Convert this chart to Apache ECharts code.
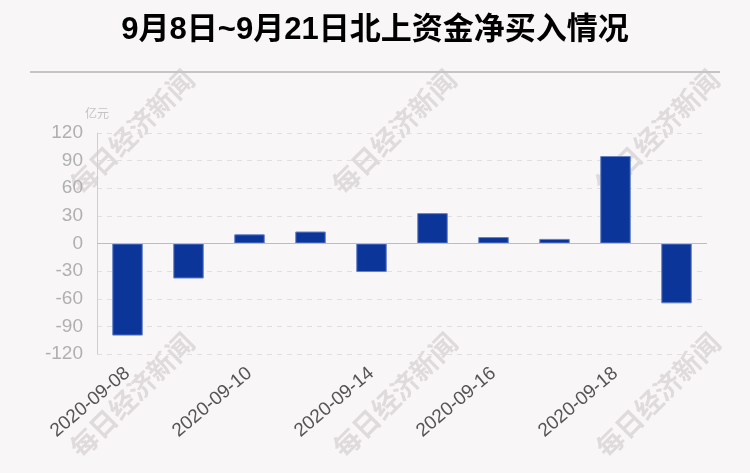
<!DOCTYPE html>
<html>
<head>
<meta charset="utf-8">
<script src="https://cdn.jsdelivr.net/npm/echarts@6/dist/echarts.min.js"></script>
<style>
html,body{margin:0;padding:0;background:#f9f6f7;}
#chart{width:750px;height:473px;}
</style>
</head>
<body>
<div id="chart"></div>
<script>
const titleText = '9月8日~9月21日北上资金净买入情况';
const unitName = '亿元';
const categories = ['2020-09-08','2020-09-09','2020-09-10','2020-09-11','2020-09-14','2020-09-15','2020-09-16','2020-09-17','2020-09-18','2020-09-21'];
const netBuy = [-100, -38, 10, 13, -31, 33, 7, 5, 95, -65];
const yMin = -120, yMax = 120, yStep = 30;
const watermark = '每日经济新闻';

const chart = echarts.init(document.getElementById('chart'), null, {renderer:'canvas'});
const wmCenters = [[132,132],[394,132],[657,132],[132,395],[395,395],[658,395]];
const graphics = [
  {type:'line', z:1, shape:{x1:30,y1:72,x2:720,y2:72}, style:{stroke:'#c6c4c5', lineWidth:2}, silent:true}
].concat(wmCenters.map(c => ({
  type:'text', z:-1, zlevel:0, x:c[0], y:c[1], rotation:Math.PI/4, silent:true,
  style:{text:watermark, fill:'#dfdbdc', font:'bold 27px "Noto Sans CJK SC"', align:'center', verticalAlign:'middle'}
})));

chart.setOption({
  backgroundColor:'#f9f6f7',
  animation:false,
  title:{text:titleText, left:'center', top:10,
    textStyle:{fontSize:31, fontWeight:'bold', color:'#000', fontFamily:'"Liberation Sans","Noto Sans CJK SC",sans-serif'}},
  graphic: graphics,
  grid:{left:97, right:43, top:133, bottom:119},
  xAxis:{
    type:'category', data:categories,
    axisLine:{show:false, onZero:false}, axisTick:{show:false},
    axisLabel:{interval:1, rotate:40, color:'#555', fontSize:19, margin:17, fontFamily:'"Liberation Sans",sans-serif'},
    splitLine:{show:false}
  },
  yAxis:{
    type:'value', min:yMin, max:yMax, interval:yStep,
    name:unitName, nameGap:14,
    nameTextStyle:{color:'#c4c4c4', fontSize:12, fontFamily:'"Noto Sans CJK SC"'},
    axisLine:{show:true, lineStyle:{color:'#cfcfcf'}},
    axisTick:{show:false},
    axisLabel:{color:'#b0b0b0', fontSize:19, margin:14, fontFamily:'"Liberation Sans",sans-serif'},
    splitLine:{show:true, lineStyle:{color:'#e2dfe0', type:[5,5]}}
  },
  series:[{
    type:'bar', data:netBuy, barWidth:'50%', z:3,
    itemStyle:{color:'#0c3599', borderColor:'#6580c8', borderWidth:1},
    markLine:{silent:true, symbol:'none', label:{show:false},
      lineStyle:{color:'#bdbdbd', type:'solid', width:1}, data:[{yAxis:0}]}
  }]
});
</script>
</body>
</html>
